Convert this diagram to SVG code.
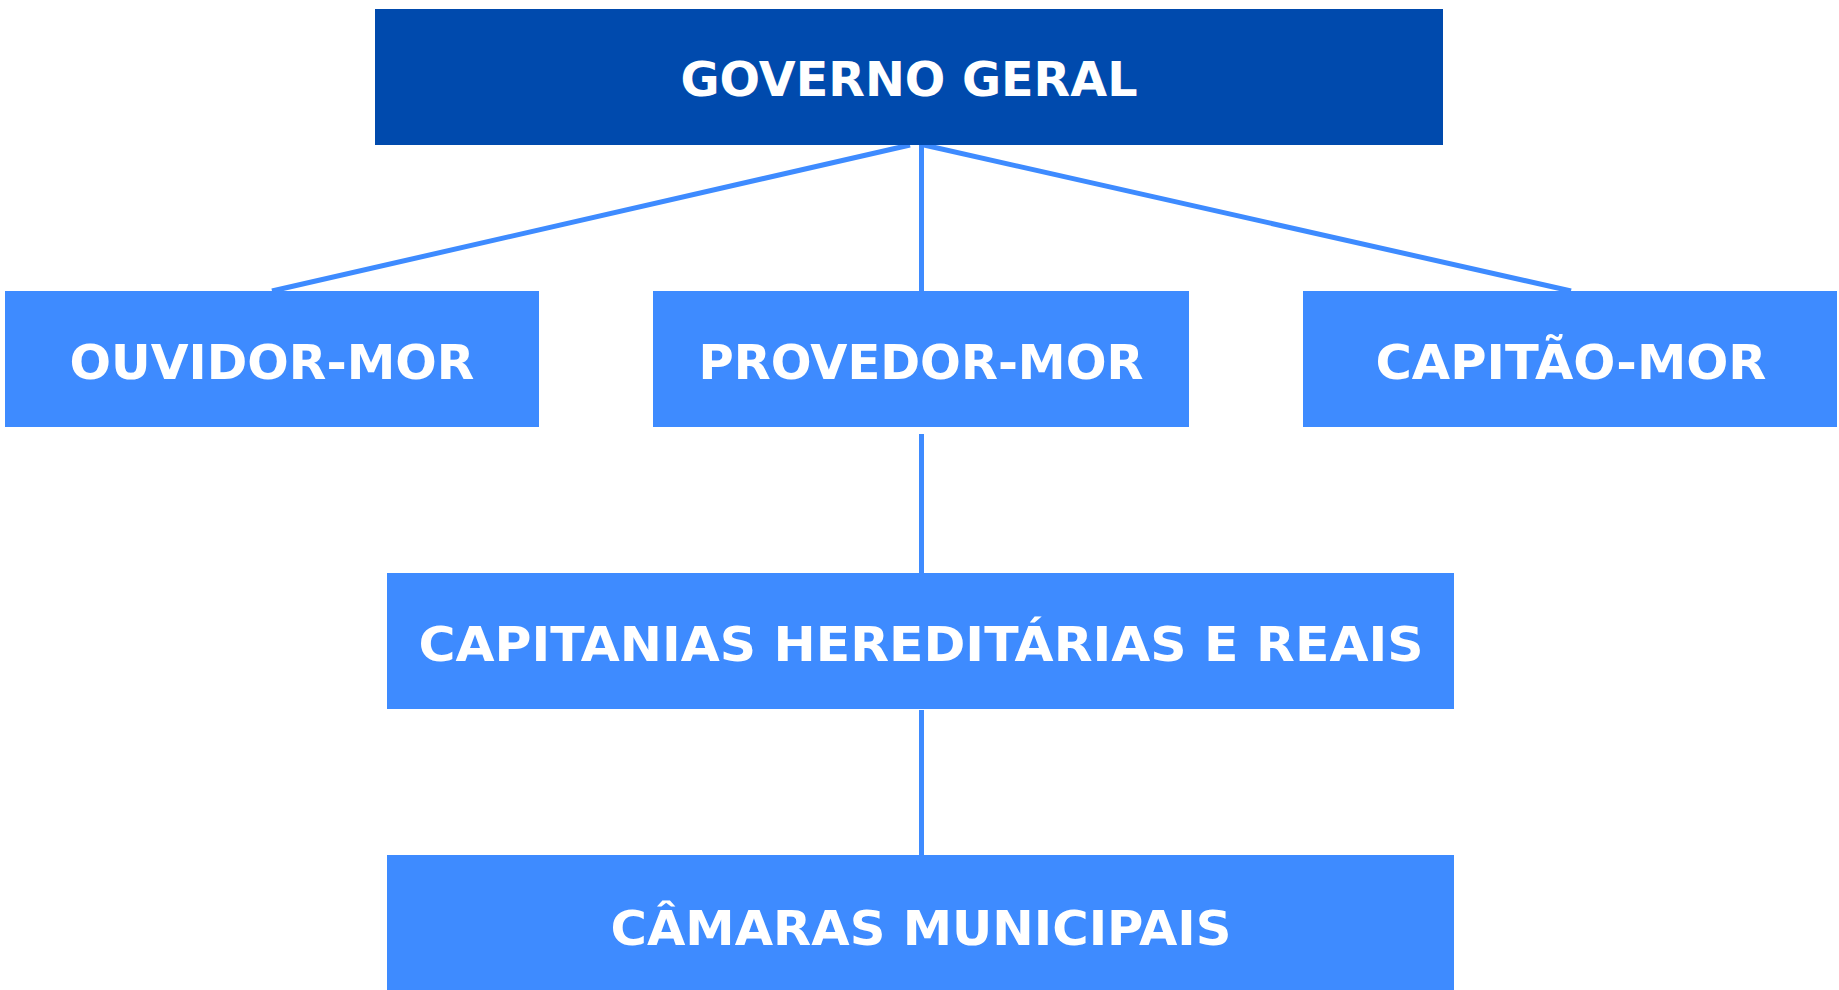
<svg xmlns="http://www.w3.org/2000/svg" width="1839" height="990" viewBox="0 0 1839 990">
<style>
.bx{fill:#3e8bff}
.top{fill:#004aad}
.t{font-family:"DejaVu Sans",Verdana,sans-serif;font-weight:bold;font-size:48px;fill:#ffffff;text-anchor:middle}
.c{stroke:#3e8bff;stroke-width:5;fill:none}
</style>
<rect width="1839" height="990" fill="#ffffff"/>
<g id="connectors">
<line class="c" x1="910" y1="145" x2="272" y2="291"/>
<line class="c" x1="924" y1="145" x2="1571" y2="291"/>
<line class="c" x1="921.5" y1="145" x2="921.5" y2="291"/>
<line class="c" x1="921.5" y1="434" x2="921.5" y2="573"/>
<line class="c" x1="921.5" y1="710" x2="921.5" y2="855"/>
</g>
<g id="governo-geral">
<rect class="top" x="375" y="9" width="1068" height="136"/>
<text class="t" x="909" y="96" textLength="457" lengthAdjust="spacingAndGlyphs">GOVERNO GERAL</text>
</g>
<g id="ouvidor-mor">
<rect class="bx" x="5" y="291" width="534" height="136"/>
<text class="t" x="272" y="379" textLength="405" lengthAdjust="spacingAndGlyphs">OUVIDOR-MOR</text>
</g>
<g id="provedor-mor">
<rect class="bx" x="653" y="291" width="536" height="136"/>
<text class="t" x="921" y="379" textLength="445" lengthAdjust="spacingAndGlyphs">PROVEDOR-MOR</text>
</g>
<g id="capitao-mor">
<rect class="bx" x="1303" y="291" width="534" height="136"/>
<text class="t" x="1571" y="379" textLength="391" lengthAdjust="spacingAndGlyphs">CAPITÃO-MOR</text>
</g>
<g id="capitanias">
<rect class="bx" x="387" y="573" width="1067" height="136"/>
<text class="t" x="921" y="661" textLength="1005" lengthAdjust="spacingAndGlyphs">CAPITANIAS HEREDITÁRIAS E REAIS</text>
</g>
<g id="camaras">
<rect class="bx" x="387" y="855" width="1067" height="135"/>
<text class="t" x="921" y="945" textLength="621" lengthAdjust="spacingAndGlyphs">CÂMARAS MUNICIPAIS</text>
</g>
</svg>
